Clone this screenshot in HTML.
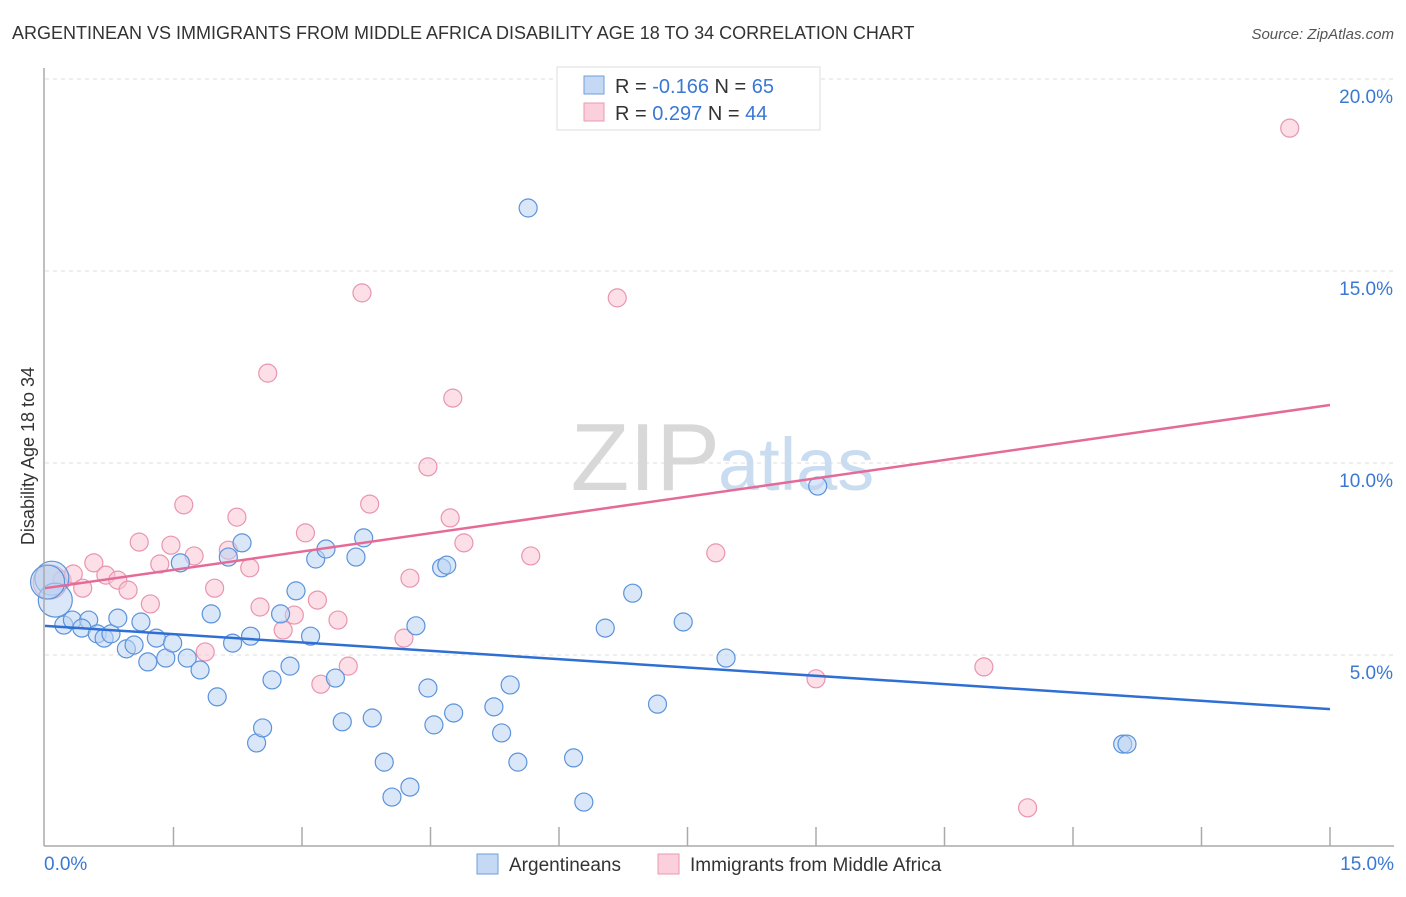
<!DOCTYPE html>
<html><head><meta charset="utf-8"><style>
body{margin:0;background:#fff;font-family:"Liberation Sans",sans-serif}
svg text{font-family:"Liberation Sans",sans-serif}
</style></head><body>
<svg id="chart" width="1406" height="892">
<text x="12" y="39" font-size="18" fill="#333">ARGENTINEAN VS IMMIGRANTS FROM MIDDLE AFRICA DISABILITY AGE 18 TO 34 CORRELATION CHART</text>
<text x="1394" y="39" font-size="15" fill="#555" font-style="italic" text-anchor="end">Source: ZipAtlas.com</text>
<g id="grid"></g>
<text x="720" y="490" font-size="96" fill="#d8d8d8" font-family="Liberation Serif" text-anchor="end">ZIP</text>
<text x="718" y="490" font-size="74" fill="#c9dcf0">atlas</text>
<text transform="translate(34,456) rotate(-90)" font-size="18" fill="#333" text-anchor="middle">Disability Age 18 to 34</text>
<g id="pts"></g>
<g id="axes"></g>
<g>
<rect x="557" y="67" width="263" height="63" fill="#fff" stroke="#ddd"/>
<rect x="584" y="76" width="20" height="18" fill="#c5d9f4" stroke="#6f9fdc"/>
<rect x="584" y="103" width="20" height="18" fill="#fbd0dc" stroke="#e99ab2"/>
<text x="615" y="93" font-size="20" fill="#333">R = <tspan fill="#3a78d4">-0.166</tspan>   N = <tspan fill="#3a78d4">65</tspan></text>
<text x="615" y="120" font-size="20" fill="#333">R =  <tspan fill="#3a78d4">0.297</tspan>   N = <tspan fill="#3a78d4">44</tspan></text>
</g>
<g>
<rect x="477" y="854" width="21" height="20" fill="#c5d9f4" stroke="#6f9fdc"/>
<text x="509" y="871" font-size="19" fill="#333">Argentineans</text>
<rect x="658" y="854" width="21" height="20" fill="#fbd0dc" stroke="#e99ab2"/>
<text x="690" y="871" font-size="19" fill="#333">Immigrants from Middle Africa</text>
</g>
</svg>
<script>
const blueX=[0.08,0.12,0.22,0.32,0.51,0.43,0.61,0.69,0.77,0.85,0.95,1.04,1.12,1.20,1.30,1.41,1.49,1.58,1.66,1.81,1.94,2.01,2.14,2.19,2.30,2.40,2.47,2.54,2.65,2.75,2.86,2.93,3.10,3.16,3.28,3.39,3.47,3.63,3.72,3.82,3.96,4.05,4.26,4.33,4.47,4.54,4.63,4.69,4.77,5.24,5.33,5.43,5.52,5.64,6.17,6.29,6.54,6.86,7.15,7.45,7.95,9.02,12.58,12.63,0.03];
const blueY=[7.00,6.43,5.78,5.91,5.91,5.70,5.55,5.44,5.55,5.96,5.16,5.26,5.86,4.82,5.44,4.92,5.31,7.40,4.92,4.61,6.07,3.91,7.55,5.31,7.92,5.49,2.71,3.10,4.35,6.07,4.71,6.67,5.49,7.50,7.76,4.40,3.26,7.55,8.05,3.36,2.21,1.30,1.56,5.76,4.14,3.18,7.27,7.34,3.49,3.65,2.97,4.22,2.21,16.64,2.32,1.17,5.70,6.61,3.72,5.86,4.92,9.40,2.68,2.68,6.9];
const pinkX=[0.06,0.20,0.33,0.44,0.57,0.71,0.85,0.97,1.10,1.23,1.34,1.47,1.62,1.74,1.87,1.98,2.14,2.24,2.39,2.51,2.60,2.78,2.91,3.04,3.18,3.22,3.42,3.54,3.70,3.79,4.19,4.26,4.47,4.73,4.76,4.89,5.67,6.68,7.83,8.94,9.00,10.96,11.47,14.53];
const pinkY=[6.90,6.95,7.11,6.74,7.40,7.08,6.95,6.69,7.94,6.33,7.37,7.86,8.91,7.58,5.08,6.74,7.73,8.59,7.27,6.25,12.34,5.65,6.04,8.18,6.43,4.24,5.91,4.71,14.43,8.93,5.44,7.00,9.90,8.57,11.69,7.92,7.58,14.30,7.66,19.38,4.38,4.69,1.02,18.72];
const blueTrend=[5.76,3.59];
const pinkTrend=[6.74,11.51];
const yTicks=[5,10,15,20];
const xTickLabels=["0.0%","15.0%"];
const NS="http://www.w3.org/2000/svg";
const X=v=>45+v*(1285/15), Y=v=>847-v*38.4;
function mk(tag,attrs,parent){const e=document.createElementNS(NS,tag);for(const k in attrs)e.setAttribute(k,attrs[k]);parent.appendChild(e);return e;}
const grid=document.getElementById('grid'),pts=document.getElementById('pts'),axes=document.getElementById('axes');
yTicks.forEach(t=>{
 const l=mk('line',{x1:45,x2:1394,y1:Y(t),y2:Y(t),stroke:'#ddd','stroke-dasharray':'4,4'},grid);
 
 
 const tx=mk('text',{x:1393,y:Y(t)+24,'font-size':19,fill:'#3a78d4','text-anchor':'end'},axes);
 tx.textContent=t.toFixed(1)+'%';
 
 
});
const ax=mk('line',{x1:44,x2:44,y1:68,y2:846,stroke:'#aaa','stroke-width':1.5},axes);


const bx=mk('line',{x1:44,x2:1394,y1:846,y2:846,stroke:'#aaa','stroke-width':1.5},axes);


for(let i=1;i<=10;i++){const t=mk('line',{x1:X(i*1.5),x2:X(i*1.5),y1:827,y2:846,stroke:'#aaa','stroke-width':1.5},axes);
 
 }
[[xTickLabels[0],44,'start'],[xTickLabels[1],1394,'end']].forEach(([s,x,a])=>{const t=mk('text',{x:x,y:870,'font-size':19,fill:'#3a78d4','text-anchor':a},axes);t.textContent=s;
 
 });
function dots(xs,ys,fill,stroke,name){xs.forEach((v,i)=>{const big=(v<0.15&&i<2)||(name==='blue-point'&&i===xs.length-1);
 const c=mk('circle',{cx:X(v),cy:Y(ys[i]),r:big?17:9,fill:fill,'fill-opacity':0.55,stroke:stroke,'stroke-width':1.2},pts);
 
 });}
dots(pinkX,pinkY,'#f9c4d3','#e995af','pink-point');
dots(blueX,blueY,'#bcd4f3','#5b93dc','blue-point');
const bl=mk('line',{x1:X(0),y1:Y(blueTrend[0]),x2:X(15),y2:Y(blueTrend[1]),stroke:'#2f6fd4','stroke-width':2.5},pts);


const pl=mk('line',{x1:X(0),y1:Y(pinkTrend[0]),x2:X(15),y2:Y(pinkTrend[1]),stroke:'#e66a97','stroke-width':2.5},pts);


</script>
</body></html>
